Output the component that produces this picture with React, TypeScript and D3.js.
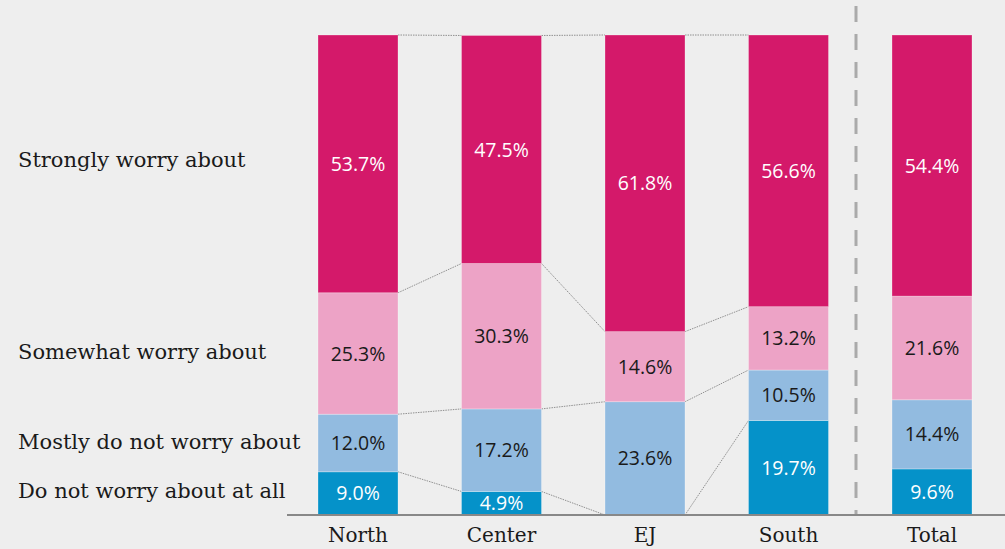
import * as d3 from "d3";
import { useEffect, useRef } from "react";

const regions = ["North", "Center", "EJ", "South", "Total"];
const seriesNames = [
  "Do not worry about at all",
  "Mostly do not worry about",
  "Somewhat worry about",
  "Strongly worry about",
];
const notAtAll = [9.0, 4.9, 0, 19.7, 9.6];
const mostlyNot = [12.0, 17.2, 23.6, 10.5, 14.4];
const somewhat = [25.3, 30.3, 14.6, 13.2, 21.6];
const strongly = [53.7, 47.5, 61.8, 56.6, 54.4];
// y position (in %) of each row label on the left
const labelAt = [3.5, 13.8, 32.5, 72.5];

const colors = ["#0592c9", "#92bbe0", "#eda3c6", "#d4196a"];
const textColors = ["#ffffff", "#1a1a1a", "#1a1a1a", "#ffffff"];

export default function App() {
  const ref = useRef(null);

  useEffect(() => {
    document.body.style.margin = "0";
    const el = ref.current;
    d3.select(el).selectAll("*").remove();

    const W = 1005;
    const H = 549;
    const svg = d3
      .select(el)
      .append("svg")
      .attr("width", W)
      .attr("height", H)
      .style("display", "block")
      .style("background", "#eeeeee");

    const x = d3.scalePoint().domain(regions).range([358, 932]);
    const y = d3.scaleLinear().domain([0, 100]).range([515, 35]);
    const barW = 80;

    const table = regions.map((r, i) => ({
      region: r,
      v: [notAtAll[i], mostlyNot[i], somewhat[i], strongly[i]],
    }));
    const stacked = table.map((d) => {
      let acc = 0;
      return d.v.map((v, k) => {
        const s = { k, y0: acc, y1: acc + v, v, region: d.region };
        acc += v;
        return s;
      });
    });

    // connectors between neighbouring regional bars
    const conn = svg
      .append("g")
      .attr("stroke", "#777")
      .attr("stroke-width", 0.8)
      .attr("stroke-dasharray", "1.5,1");
    for (let i = 0; i < 3; i++) {
      const boundsA = [0, ...stacked[i].map((s) => s.y1)];
      const boundsB = [0, ...stacked[i + 1].map((s) => s.y1)];
      boundsA.forEach((v, j) => {
        conn
          .append("line")
          .attr("x1", x(regions[i]) + barW / 2)
          .attr("y1", y(v))
          .attr("x2", x(regions[i + 1]) - barW / 2)
          .attr("y2", y(boundsB[j]));
      });
    }

    // bars
    const bars = svg.append("g");
    stacked.forEach((segs) => {
      segs.forEach((s) => {
        if (s.v <= 0) return;
        bars
          .append("rect")
          .attr("x", x(s.region) - barW / 2)
          .attr("y", y(s.y1))
          .attr("width", barW)
          .attr("height", y(s.y0) - y(s.y1))
          .attr("fill", colors[s.k])
          .attr("stroke", "#ffffff")
          .attr("stroke-opacity", 0.35)
          .attr("stroke-width", 0.8);
        bars
          .append("text")
          .attr("x", x(s.region))
          .attr("y", (y(s.y0) + y(s.y1)) / 2)
          .attr("dy", "0.36em")
          .attr("text-anchor", "middle")
          .attr("fill", textColors[s.k])
          .style("font-family", "'Open Sans', sans-serif")
          .style("font-size", "19.5px")
          .text(s.v.toFixed(1) + "%");
      });
    });

    // divider before Total
    svg
      .append("line")
      .attr("x1", 856)
      .attr("x2", 856)
      .attr("y1", 6)
      .attr("y2", 515)
      .attr("stroke", "#aaaaaa")
      .attr("stroke-width", 3)
      .attr("stroke-dasharray", "16,12");

    // axis line
    svg
      .append("line")
      .attr("x1", 287)
      .attr("x2", W)
      .attr("y1", 515)
      .attr("y2", 515)
      .attr("stroke", "#888")
      .attr("stroke-width", 2);

    svg
      .append("g")
      .selectAll("text")
      .data(regions)
      .join("text")
      .attr("x", (d) => x(d))
      .attr("y", 542)
      .attr("text-anchor", "middle")
      .attr("fill", "#1a1a1a")
      .style("font-family", "'DejaVu Serif', serif")
      .style("font-size", "20px")
      .text((d) => d);

    svg
      .append("g")
      .selectAll("text")
      .data(seriesNames)
      .join("text")
      .attr("x", 18)
      .attr("y", (d, i) => y(labelAt[i]))
      .attr("fill", "#1a1a1a")
      .style("font-family", "'DejaVu Serif', serif")
      .style("font-size", "21px")
      .text((d) => d);
  }, []);

  return <div ref={ref} />;
}
